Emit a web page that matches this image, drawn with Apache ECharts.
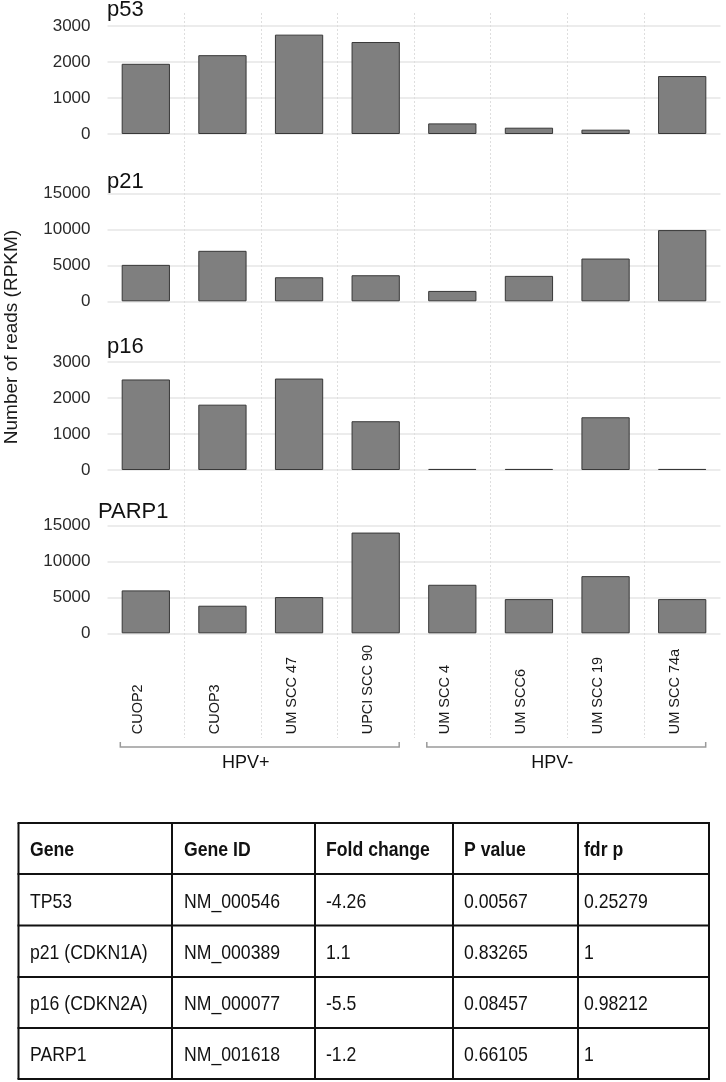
<!DOCTYPE html>
<html>
<head>
<meta charset="utf-8">
<script src="https://cdn.jsdelivr.net/npm/echarts@6/dist/echarts.min.js"></script>
<style>
html,body{margin:0;padding:0;background:#fff;}
#chart{width:726px;height:1082px;}
</style>
</head>
<body>
<div id="chart"></div>
<script>
// ---- data ----
const categories = ['CUOP2', 'CUOP3', 'UM SCC 47', 'UPCI SCC 90', 'UM SCC 4', 'UM SCC6', 'UM SCC 19', 'UM SCC 74a'];
const p53 = [1950, 2190, 2760, 2555, 295, 175, 120, 1610];
const p21 = [5060, 7010, 3340, 3620, 1440, 3530, 5940, 9890];
const p16 = [2515, 1815, 2540, 1355, 30, 30, 1465, 30];
const parp1 = [5960, 3830, 5030, 13990, 6740, 4750, 7940, 4750];
const panelNames = ['p53', 'p21', 'p16', 'PARP1'];
const panelValues = [p53, p21, p16, parp1];
const yMax = [3000, 15000, 3000, 15000];
const yStep = [1000, 5000, 1000, 5000];
const yTitle = 'Number of reads (RPKM)';
const groupNames = ['HPV+', 'HPV-'];
const groupFirst = [0, 4];
const groupLast = [3, 7];
const tableHeader = ['Gene', 'Gene ID', 'Fold change', 'P value', 'fdr p'];
const tableGene = ['TP53', 'p21 (CDKN1A)', 'p16 (CDKN2A)', 'PARP1'];
const tableGeneId = ['NM_000546', 'NM_000389', 'NM_000077', 'NM_001618'];
const tableFold = ['-4.26', '1.1', '-5.5', '-1.2'];
const tablePval = ['0.00567', '0.83265', '0.08457', '0.66105'];
const tableFdr = ['0.25279', '1', '0.98212', '1'];

// ---- layout / style ----
const FONT = 'Liberation Sans, Arial, Helvetica, sans-serif';
const gridLeft = 107.5, gridWidth = 613;
const panelTops = [26, 193.3, 362, 525.3];
const panelHeight = 108;
const titleX = [107, 107, 107, 98];
const titleY = [10, 181.5, 346.5, 511.5];
const vlineTop = 13, vlineBottom = 738;

const chart = echarts.init(document.getElementById('chart'), null, {renderer: 'canvas'});

const grids = [], xAxes = [], yAxes = [], series = [];
panelNames.forEach((name, i) => {
  grids.push({left: gridLeft, width: gridWidth, top: panelTops[i], height: panelHeight, containLabel: false, outerBoundsMode: 'none'});
  const isLast = i === panelNames.length - 1;
  xAxes.push({
    type: 'category', gridIndex: i, data: categories,
    axisLine: {show: false}, axisTick: {show: false}, splitLine: {show: false},
    axisLabel: isLast ? {
      show: true, interval: 0, rotate: 90, align: 'left', verticalAlign: 'bottom',
      margin: 101, fontSize: 14.5, color: '#1a1a1a', fontFamily: FONT
    } : {show: false}
  });
  yAxes.push({
    type: 'value', gridIndex: i, min: 0, max: yMax[i], interval: yStep[i],
    axisLine: {show: false}, axisTick: {show: false},
    axisLabel: {fontSize: 17, color: '#2a2a2a', margin: 17, fontFamily: FONT, formatter: (v) => String(v)},
    splitLine: {show: true, lineStyle: {color: '#e6e6e6', width: 1.5}}
  });
  series.push({
    type: 'bar', name: name, xAxisIndex: i, yAxisIndex: i, data: panelValues[i],
    barCategoryGap: '37%',
    itemStyle: {color: '#7f7f7f', borderColor: '#383838', borderWidth: 1},
    silent: true, z: 3
  });
});
// overlay grid for continuous vertical dotted gridlines at category boundaries
grids.push({left: gridLeft, width: gridWidth, top: vlineTop, height: vlineBottom - vlineTop, containLabel: false, outerBoundsMode: 'none'});
xAxes.push({
  type: 'value', gridIndex: 4, min: 0, max: categories.length, interval: 1,
  axisLine: {show: false}, axisTick: {show: false}, axisLabel: {show: false},
  splitLine: {show: true, showMinLine: false, showMaxLine: false, lineStyle: {color: '#dedede', width: 1, type: [2, 2]}}
});
yAxes.push({type: 'value', gridIndex: 4, min: 0, max: 1, show: false});

chart.setOption({
  animation: false,
  backgroundColor: '#fff',
  textStyle: {fontFamily: FONT},
  grid: grids, xAxis: xAxes, yAxis: yAxes, series: series
});

// ---- annotations: titles, axis title, group brackets, table ----
const graphic = [];
panelNames.forEach((name, i) => {
  graphic.push({type: 'text', x: titleX[i], y: titleY[i], silent: true,
    style: {text: name, fontSize: 22, fill: '#111', fontFamily: FONT, align: 'left', verticalAlign: 'middle'}});
});
graphic.push({type: 'text', x: 12, y: 337, rotation: Math.PI / 2, silent: true,
  style: {text: yTitle, fontSize: 19, fill: '#1a1a1a', fontFamily: FONT, align: 'center', verticalAlign: 'middle'}});

const lastX = panelNames.length - 1;
const px = (idx) => chart.convertToPixel({xAxisIndex: lastX}, categories[idx]);
const bracketY = 747, bracketTick = 5;
groupNames.forEach((g, k) => {
  const c0 = px(groupFirst[k]), c1 = px(groupLast[k]);
  const x0 = c0 - 25.5, x1 = c1 + 23.5;
  graphic.push({type: 'polyline', silent: true,
    shape: {points: [[x0, bracketY - bracketTick], [x0, bracketY], [x1, bracketY], [x1, bracketY - bracketTick]]},
    style: {stroke: '#9a9a9a', lineWidth: 1.5, fill: null}});
  graphic.push({type: 'text', x: (c0 + c1) / 2 - 15, y: 763, silent: true,
    style: {text: g, fontSize: 18, fill: '#111', fontFamily: FONT, align: 'center', verticalAlign: 'middle'}});
});

// table
const colX = [18.5, 172, 315, 453, 578, 709];
const rowY = [823, 874, 925.5, 977, 1028, 1079];
const textPad = [11.5, 12, 11, 11, 6];
const tableCols = [tableGene, tableGeneId, tableFold, tablePval, tableFdr];
const tFont = 21, tScale = 0.84;
for (let r = 0; r < rowY.length; r++) {
  graphic.push({type: 'line', silent: true, shape: {x1: colX[0] - 1, y1: rowY[r], x2: colX[colX.length - 1] + 1, y2: rowY[r]},
    style: {stroke: '#111', lineWidth: 2}});
}
for (let c = 0; c < colX.length; c++) {
  graphic.push({type: 'line', silent: true, shape: {x1: colX[c], y1: rowY[0], x2: colX[c], y2: rowY[rowY.length - 1]},
    style: {stroke: '#111', lineWidth: 2}});
}
tableHeader.forEach((h, c) => {
  graphic.push({type: 'text', silent: true, x: colX[c] + textPad[c], y: (rowY[0] + rowY[1]) / 2 + 2, scaleX: tScale,
    style: {text: h, fontSize: tFont, fontWeight: 'bold', fill: '#111', fontFamily: FONT, align: 'left', verticalAlign: 'middle'}});
});
for (let r = 0; r < tableGene.length; r++) {
  tableCols.forEach((col, c) => {
    graphic.push({type: 'text', silent: true, x: colX[c] + textPad[c], y: (rowY[r + 1] + rowY[r + 2]) / 2 + 2, scaleX: tScale,
      style: {text: col[r], fontSize: tFont, fill: '#111', fontFamily: FONT, align: 'left', verticalAlign: 'middle'}});
  });
}

chart.setOption({graphic: graphic});
</script>
</body>
</html>
